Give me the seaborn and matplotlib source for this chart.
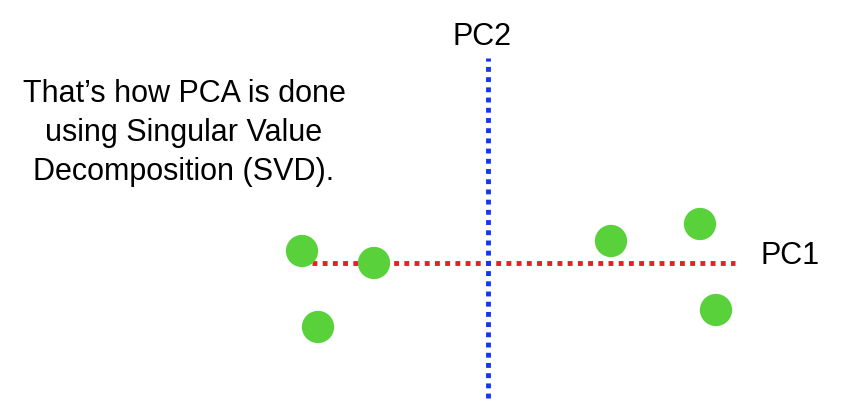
import seaborn as sns
import matplotlib.pyplot as plt
import pandas as pd

# PCA scores of the six samples (PC1, PC2)
pc1_scores = [-18.6, -11.4, -17.0, 12.3, 21.2, 22.8]
pc2_scores = [1.2, 0.0, -6.4, 2.2, 3.9, -4.7]

# extent of the two principal component axes
pc1_axis = [-17.6, 24.7]
pc2_axis = [-13.5, 20.5]

caption = "That\u2019s how PCA is done\nusing Singular Value\nDecomposition (SVD)."

sns.set_theme(style='white')
plt.rcParams['font.family'] = ['Liberation Sans', 'DejaVu Sans']
plt.rcParams['text.color'] = 'black'

fig = plt.figure(figsize=(8.5, 4.19), dpi=100)
ax = fig.add_axes([0, 0, 1, 1])

df = pd.DataFrame({'PC1': pc1_scores, 'PC2': pc2_scores})

# dotted axes
ax.plot(pc1_axis, [0, 0], color='#e41f26', lw=3.5,
        linestyle=(0, (1, 1.1)), dash_capstyle='butt', zorder=1)
ax.plot([0, 0], pc2_axis, color='#1435f2', lw=3.5,
        linestyle=(0, (1, 1.1)), dash_capstyle='butt', zorder=1)

sns.scatterplot(data=df, x='PC1', y='PC2', s=540, color='#58d13a',
                edgecolor='none', ax=ax, zorder=3)

ax.text(pc1_axis[1] + 5.5, 0.7, 'PC1', fontsize=22, ha='center', va='center', color='black')
ax.text(-0.6, 22.6, 'PC2', fontsize=22, ha='center', va='center', color='black')
ax.text(-30.4, 13.0, caption, fontsize=22, ha='center', va='center',
        linespacing=1.38, color='black')

ax.set_xlim(-48.8, 36.2)
ax.set_ylim(-15.6, 26.3)
ax.axis('off')

plt.savefig('out.png', dpi=100)
